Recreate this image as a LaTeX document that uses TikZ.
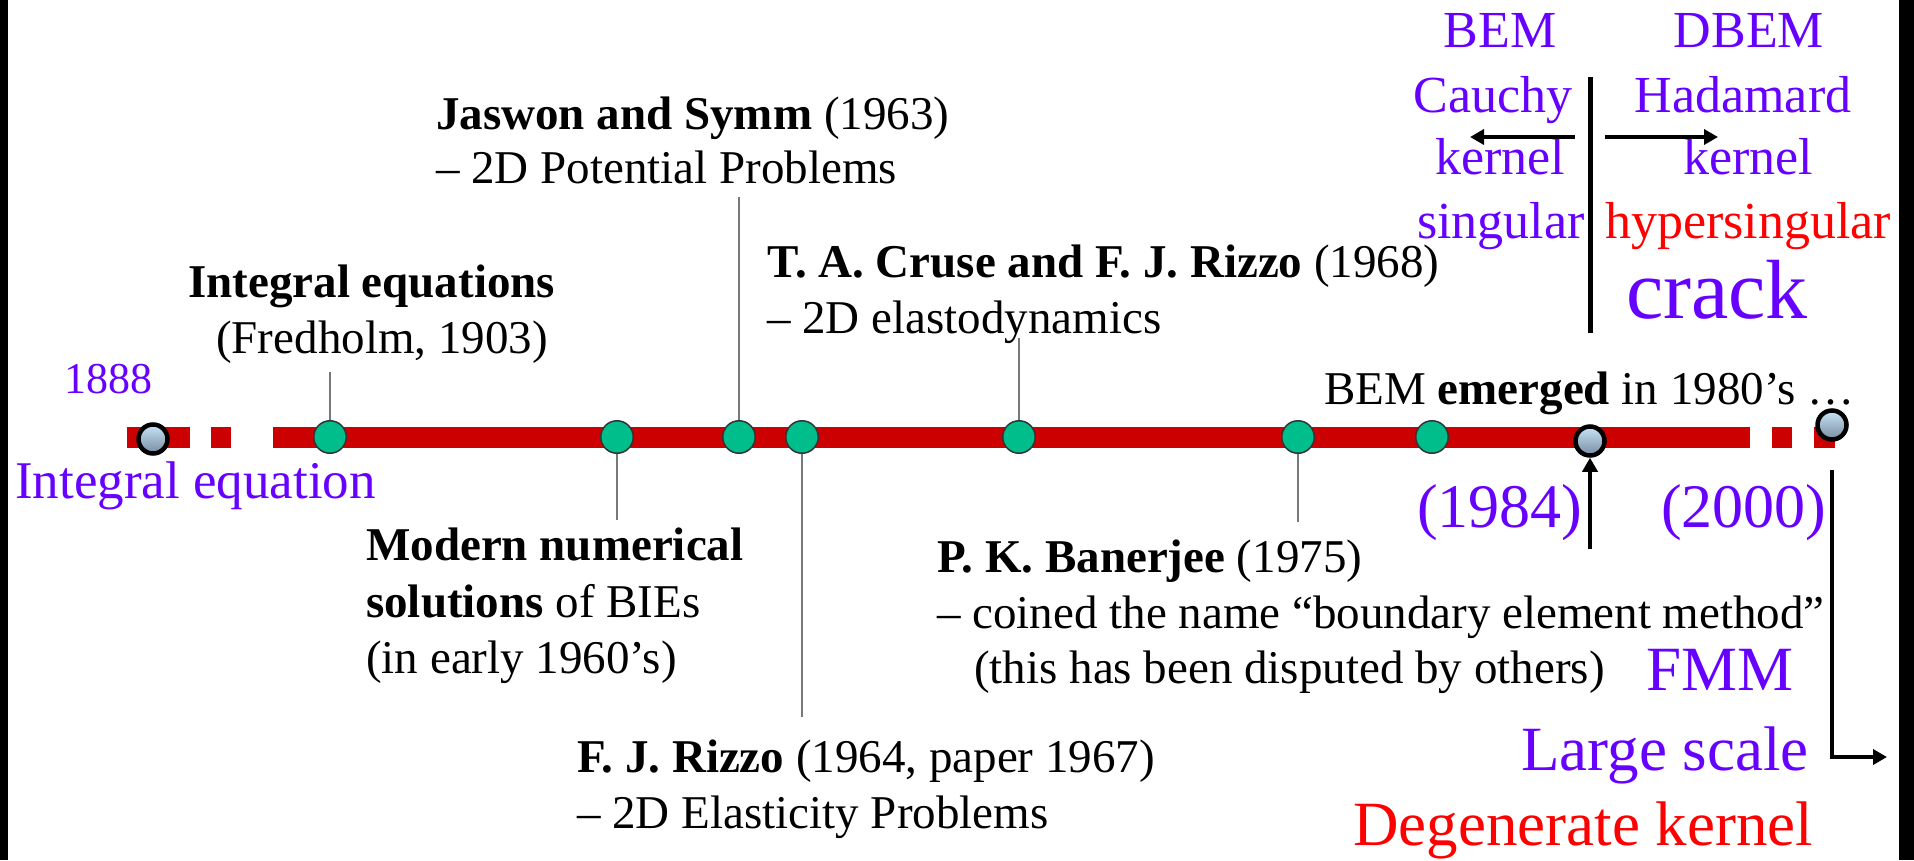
\documentclass[tikz,border=0pt]{standalone}
\usepackage{fontspec}
\setmainfont{Liberation Serif}
\usetikzlibrary{arrows.meta}

\definecolor{barred}{RGB}{204,0,0}
\definecolor{dotgreen}{RGB}{0,190,140}
\definecolor{purp}{RGB}{102,0,255}
\definecolor{hotred}{RGB}{255,0,0}
\definecolor{lblue}{RGB}{200,228,248}
\definecolor{lbluedark}{RGB}{120,140,160}
\definecolor{leadgray}{RGB}{120,120,120}

\begin{document}
\begin{tikzpicture}[x=1pt,y=-1pt,
  txt/.style={anchor=base west, inner sep=0pt, font=\fontsize{47}{51}\selectfont},
  ptxt/.style={anchor=base, inner sep=0pt, text=purp, font=\fontsize{52}{56}\selectfont},
  ptag/.style={anchor=base west, inner sep=0pt, text=purp},
  big/.style={anchor=base west, inner sep=0pt, font=\fontsize{63}{66}\selectfont},
  event/.style={circle, draw=black!80, line width=1.5pt, fill=dotgreen, minimum size=32.5pt, inner sep=0pt},
  epoch/.style={circle, draw=black, line width=4.5pt, top color=lblue, middle color=lblue, bottom color=lbluedark, minimum size=29pt, inner sep=0pt},
  lead/.style={draw=leadgray, line width=1.5pt},
  pointer/.style={draw=black, line width=4pt, -{Triangle[length=14pt,width=15pt]}},
]
\useasboundingbox (0,0) rectangle (1914,860);

% side frame strips
\fill[black] (0,0) rectangle (8,860);
\fill[black] (1899,0) rectangle (1914,860);

% the time line
\fill[barred] (127,427) rectangle (190,448);
\fill[barred] (211,427) rectangle (231,448);
\fill[barred] (273,427) rectangle (1750,448);
\fill[barred] (1772,427) rectangle (1792,448);
\fill[barred] (1814,427) rectangle (1835,448);

% events on the line
\node[event] (fred) at (330,437) {};
\node[event] (modern) at (617,437) {};
\node[event] (jaswon) at (739,437) {};
\node[event] (rizzo) at (802,437) {};
\node[event] (cruse) at (1019,437) {};
\node[event] (banerjee) at (1298,437) {};
\node[event] (emerged) at (1432,437) {};

% epochs
\node[epoch] (e1888) at (153,439) {};
\node[epoch] (e1984) at (1590,441) {};
\node[epoch] (e2000) at (1832,425) {};

% leader lines
\coordinate (fredend) at (330,372);
\coordinate (modernend) at (617,520);
\coordinate (jaswonend) at (739,197);
\coordinate (rizzoend) at (802,717);
\coordinate (cruseend) at (1019,338);
\coordinate (banerjeeend) at (1298,522);
\draw[lead] (fred) -- (fredend);
\draw[lead] (modern) -- (modernend);
\draw[lead] (jaswon) -- (jaswonend);
\draw[lead] (rizzo) -- (rizzoend);
\draw[lead] (cruse) -- (cruseend);
\draw[lead] (banerjee) -- (banerjeeend);

% event texts
\node[txt] (jas1) at (436,129) {\textbf{Jaswon and Symm} (1963)};
\node[txt] (jas2) at (436,183) {– 2D Potential Problems};
\node[txt] (int1) at (188,297) {\textbf{Integral equations}};
\node[txt] (int2) at (216,353) {(Fredholm, 1903)};
\node[txt] (cru1) at (767,277) {\textbf{T. A. Cruse and F. J. Rizzo} (1968)};
\node[txt] (cru2) at (767,333) {– 2D elastodynamics};
\node[txt] (emg) at (1324,404) {BEM \textbf{emerged} in 1980’s …};
\node[txt] (mod1) at (366,560) {\textbf{Modern numerical}};
\node[txt] (mod2) at (366,617) {\textbf{solutions} of BIEs};
\node[txt] (mod3) at (366,673) {(in early 1960’s)};
\node[txt] (ban1) at (937,572) {\textbf{P. K. Banerjee} (1975)};
\node[txt] (ban2) at (937,628) {– coined the name “boundary element method”};
\node[txt] (ban3) at (974,683) {(this has been disputed by others)};
\node[txt] (riz1) at (577,772) {\textbf{F. J. Rizzo} (1964, paper 1967)};
\node[txt] (riz2) at (577,828) {– 2D Elasticity Problems};

% epoch labels
\node[ptag, font=\fontsize{44}{48}\selectfont] (y1888) at (64,393) {1888};
\node[ptag, font=\fontsize{53}{56}\selectfont] (inteq) at (15,498) {Integral equation};
\node[ptag, font=\fontsize{62}{66}\selectfont] (y1984) at (1417,527) {(1984)};
\node[ptag, font=\fontsize{62}{66}\selectfont] (y2000) at (1661,527) {(2000)};

% pointers below the epochs
\coordinate (p1984) at (1590,549);
\draw[pointer] (p1984) -- (e1984);
\coordinate (p2000) at (1832,470);
\coordinate (q2000) at (1887,757);
\draw[pointer] (p2000) |- (q2000);

\node[big, text=purp] (fmm) at (1646,690) {FMM};
\node[big, text=purp] (large) at (1521,770) {Large scale};
\node[big, text=hotred] (degen) at (1353,845) {Degenerate kernel};

% BEM / DBEM comparison
\node[ptxt] (bem) at (1500,47) {BEM};
\node[ptxt] (dbem) at (1749,47) {DBEM};
\node[ptxt] (cauchy) at (1493,112) {Cauchy};
\node[ptxt] (hadamard) at (1743,112) {Hadamard};
\node[ptxt] (kerl) at (1500,174) {kernel};
\node[ptxt] (kerr) at (1748,174) {kernel};
\node[ptxt] (sing) at (1501,238) {singular};
\node[ptxt, text=hotred] (hsing) at (1748,238) {hypersingular};
\node[ptxt, font=\fontsize{84}{88}\selectfont] (crack) at (1717,318) {crack};

\draw[line width=5pt] (1590,77) -- (1590,333);
\coordinate (la) at (1575,137);
\coordinate (lb) at (1470,137);
\coordinate (ra) at (1605,137);
\coordinate (rb) at (1718,137);
\draw[pointer] (la) -- (lb);
\draw[pointer] (ra) -- (rb);
\end{tikzpicture}
\end{document}
